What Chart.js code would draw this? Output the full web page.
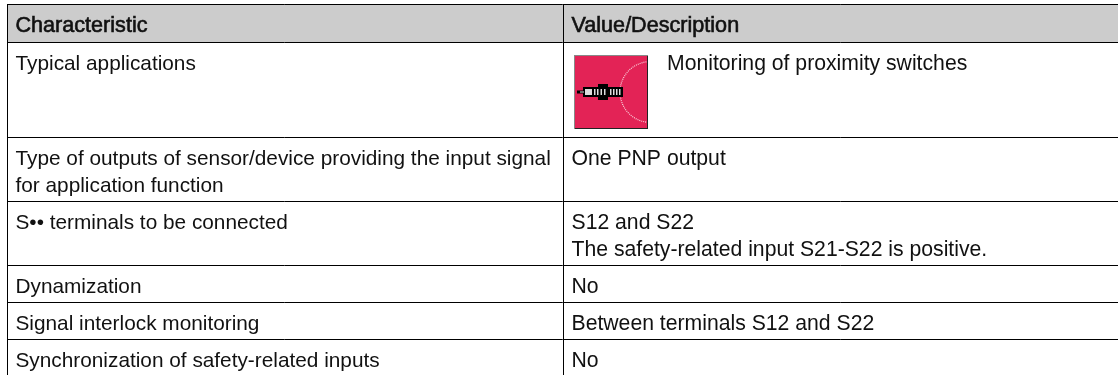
<!DOCTYPE html>
<html>
<head>
<meta charset="utf-8">
<style>
  html, body { margin: 0; padding: 0; background: #fff; overflow: hidden; }
  canvas { display: block; }
</style>
<script src="https://cdn.jsdelivr.net/npm/chart.js@4"></script>
</head>
<body>
<canvas id="table" width="1118" height="375"></canvas>
<script>
const headers = ['Characteristic', 'Value/Description'];
const characteristics = [
    ['Typical applications'],
    ['Type of outputs of sensor/device providing the input signal', 'for application function'],
    ['S\u2022\u2022 terminals to be connected'],
    ['Dynamization'],
    ['Signal interlock monitoring'],
    ['Synchronization of safety-related inputs']
];
const descriptions = [
    ['Monitoring of proximity switches'],
    ['One PNP output'],
    ['S12 and S22', 'The safety-related input S21-S22 is positive.'],
    ['No'],
    ['Between terminals S12 and S22'],
    ['No']
];

// table layout, the scales run in page pixels
const columnLines = [7, 563];
const rowLines = [4, 42, 137, 201, 265, 302, 339];
const textInset = 8.5;
const baselineOffset = 27.5;
const lineStep = 27;
const fontFamily = '"Liberation Sans", Arial, sans-serif';

const tableText = {
    id: 'tableText',
    afterDraw(chart) {
        const { ctx, scales: { x, y } } = chart;
        ctx.save();
        ctx.fillStyle = '#111';
        ctx.strokeStyle = '#111';
        ctx.textBaseline = 'alphabetic';
        ctx.font = '21.6px ' + fontFamily;
        ctx.lineWidth = 0.6;
        headers.forEach((h, c) => {
            const tx = x.getPixelForValue(columnLines[c] + textInset);
            const ty = y.getPixelForValue(rowLines[0] + baselineOffset);
            ctx.fillText(h, tx, ty);
            ctx.strokeText(h, tx, ty);
        });
        ctx.font = '20.8px ' + fontFamily;
        characteristics.forEach((lines, r) => {
            lines.forEach((t, i) => {
                ctx.fillText(t, x.getPixelForValue(columnLines[0] + textInset), y.getPixelForValue(rowLines[r + 1] + baselineOffset + i * lineStep));
            });
        });
        ctx.font = '21.2px ' + fontFamily;
        descriptions.forEach((lines, r) => {
            // first row has the icon in front of the text
            const left = r === 0 ? 667 : columnLines[1] + textInset;
            lines.forEach((t, i) => {
                ctx.fillText(t, x.getPixelForValue(left), y.getPixelForValue(rowLines[r + 1] + baselineOffset + i * lineStep));
            });
        });
        ctx.restore();
    }
};

// proximity switch icon in the first row
const sensorIcon = {
    id: 'sensorIcon',
    afterDraw(chart) {
        const { ctx, scales: { x, y } } = chart;
        const px = x.getPixelForValue(574);
        const py = y.getPixelForValue(55);
        ctx.save();
        ctx.fillStyle = '#e32356';
        ctx.fillRect(px, py, 74, 74);
        ctx.fillStyle = '#222';
        ctx.fillRect(px + 73, py, 1, 74);
        ctx.fillRect(px, py + 73, 74, 1);
        ctx.fillStyle = '#888';
        ctx.fillRect(px, py, 74, 1);
        ctx.fillRect(px, py, 1, 74);

        ctx.save();
        ctx.beginPath();
        ctx.rect(px + 1, py + 1, 72, 72);
        ctx.clip();
        ctx.strokeStyle = '#f9d3dc';
        ctx.lineWidth = 1.2;
        ctx.setLineDash([1, 1]);
        ctx.beginPath();
        ctx.arc(px + 76.4, py + 37, 30.4, 0, Math.PI * 2);
        ctx.stroke();
        ctx.restore();

        const cy = py + 37;
        ctx.fillStyle = '#000';
        ctx.fillRect(px + 3, cy - 1.5, 8, 3);
        ctx.fillRect(px + 9, cy - 5, 40, 10);
        ctx.fillRect(px + 24, cy - 8, 10, 16);
        ctx.fillStyle = '#ddd';
        ctx.fillRect(px + 6, cy - 0.5, 4, 1);
        ctx.fillRect(px + 11, cy - 3, 7, 6);
        [20, 23, 26.5, 30, 36, 39, 42, 45].forEach(o => ctx.fillRect(px + o, cy - 3, 1.5, 6));
        ctx.restore();
    }
};

new Chart(document.getElementById('table'), {
    type: 'line',
    data: {
        datasets: [{
            // grey header band
            data: [{ x: columnLines[0], y: rowLines[0] }, { x: 1118, y: rowLines[0] }],
            fill: { value: rowLines[1] },
            backgroundColor: '#cccccc',
            borderWidth: 0,
            pointRadius: 0
        }]
    },
    options: {
        responsive: false,
        animation: false,
        layout: { padding: { top: 4, left: 7 } },
        plugins: { legend: { display: false }, tooltip: { enabled: false } },
        scales: {
            x: {
                type: 'linear',
                min: 7,
                max: 1118,
                afterBuildTicks: axis => { axis.ticks = columnLines.map(value => ({ value })); },
                border: { display: false },
                grid: { color: '#000', lineWidth: 1, drawTicks: false, z: 1 },
                ticks: { display: false }
            },
            y: {
                type: 'linear',
                reverse: true,
                min: 4,
                max: 375,
                afterBuildTicks: axis => { axis.ticks = rowLines.map(value => ({ value })); },
                border: { display: false },
                grid: { color: '#000', lineWidth: 1, drawTicks: false, z: 1 },
                ticks: { display: false }
            }
        }
    },
    plugins: [sensorIcon, tableText]
});
</script>
</body>
</html>
